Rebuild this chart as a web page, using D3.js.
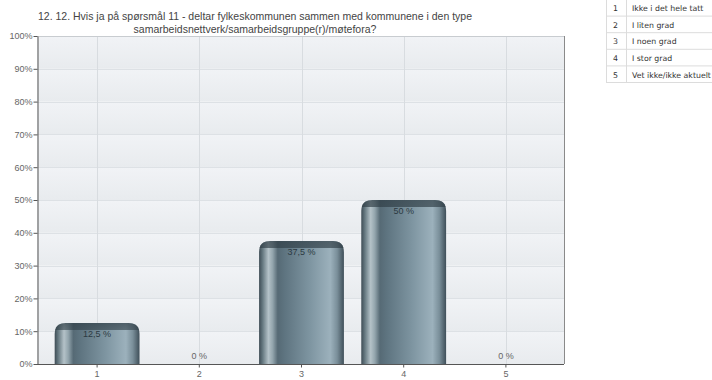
<!DOCTYPE html>
<html>
<head>
<meta charset="utf-8">
<script src="https://cdn.jsdelivr.net/npm/d3@7"></script>
<style>
  html, body { margin: 0; padding: 0; background: #fff; }
  svg { display: block; }
</style>
</head>
<body>
<svg id="chart" width="712" height="380"></svg>
<script>
// Answer categories and their share of responses (percent)
const categories = ["1", "2", "3", "4", "5"];
const values = [12.5, 0, 37.5, 50, 0];
const valueLabels = ["12,5 %", "0 %", "37,5 %", "50 %", "0 %"];
const yTicks = [0, 10, 20, 30, 40, 50, 60, 70, 80, 90, 100];
const titleLines = [
  "12. 12. Hvis ja på spørsmål 11 - deltar fylkeskommunen sammen med kommunene i den type",
  "samarbeidsnettverk/samarbeidsgruppe(r)/møtefora?"
];
const legendCodes = ["1", "2", "3", "4", "5"];
const legendTexts = ["Ikke i det hele tatt", "I liten grad", "I noen grad", "I stor grad", "Vet ikke/ikke aktuelt"];

const svg = d3.select("#chart");
const plot = { left: 37, right: 564, top: 36, bottom: 364 };

const x = d3.scaleBand()
  .domain(categories)
  .range([plot.left + 9, plot.right - 7])
  .paddingInner(0.17)
  .paddingOuter(0.085);

const y = d3.scaleLinear().domain([0, 100]).range([plot.bottom, plot.top]);

const defs = svg.append("defs");

// Soft vertical shading inside each 10% band
const bandGrad = defs.append("linearGradient").attr("id", "bandGrad")
  .attr("x1", 0).attr("y1", 0).attr("x2", 0).attr("y2", 1);
bandGrad.append("stop").attr("offset", "0%").attr("stop-color", "#f1f3f6");
bandGrad.append("stop").attr("offset", "100%").attr("stop-color", "#e8ebee");

// Cylinder-like shading across the bar
const barGrad = defs.append("linearGradient").attr("id", "barGrad")
  .attr("x1", 0).attr("y1", 0).attr("x2", 1).attr("y2", 0);
[
  ["0%", "#3e4c55"], ["4%", "#64777f"], ["11%", "#b4c2c8"], ["16%", "#93a5ad"],
  ["22%", "#566a75"], ["30%", "#5e7480"], ["60%", "#7e95a1"], ["84%", "#9cb1bc"],
  ["92%", "#7a8f9a"], ["100%", "#3f4f59"]
].forEach(([o, c]) => barGrad.append("stop").attr("offset", o).attr("stop-color", c));

// Darker rim along the rounded top
const capGrad = defs.append("linearGradient").attr("id", "capGrad")
  .attr("x1", 0).attr("y1", 0).attr("x2", 0).attr("y2", 1);
capGrad.append("stop").attr("offset", "0%").attr("stop-color", "#2f3d45").attr("stop-opacity", 0.7);
capGrad.append("stop").attr("offset", "100%").attr("stop-color", "#2f3d45").attr("stop-opacity", 0);

// Plot background bands
const bandEdges = d3.range(0, 100, 10);
svg.append("g").selectAll("rect").data(bandEdges).join("rect")
  .attr("x", plot.left)
  .attr("y", d => y(d + 10))
  .attr("width", plot.right - plot.left)
  .attr("height", d => y(d) - y(d + 10))
  .attr("fill", "url(#bandGrad)");

// Horizontal grid lines
svg.append("g").selectAll("line").data(yTicks.slice(1)).join("line")
  .attr("x1", plot.left).attr("x2", plot.right)
  .attr("y1", d => Math.round(y(d)) + 0.5).attr("y2", d => Math.round(y(d)) + 0.5)
  .attr("stroke", "#dde1e5");

// Vertical grid lines at category centres
svg.append("g").selectAll("line").data(categories).join("line")
  .attr("x1", d => Math.round(x(d) + x.bandwidth() / 2) + 0.5)
  .attr("x2", d => Math.round(x(d) + x.bandwidth() / 2) + 0.5)
  .attr("y1", plot.top).attr("y2", plot.bottom)
  .attr("stroke", "#d8dce0");

// Frame: right and top edges
svg.append("line")
  .attr("x1", plot.right + 0.5).attr("x2", plot.right + 0.5)
  .attr("y1", plot.top).attr("y2", plot.bottom)
  .attr("stroke", "#8a8a8a");
svg.append("line")
  .attr("x1", plot.left).attr("x2", plot.right)
  .attr("y1", plot.top + 0.5).attr("y2", plot.top + 0.5)
  .attr("stroke", "#c8ccd0");

// Bars with rounded top corners
const data = categories.map((c, i) => ({ c, v: values[i], label: valueLabels[i] }));
function barPath(d) {
  const x0 = x(d.c), w = x.bandwidth();
  const y0 = y(d.v), yb = y(0);
  const r = Math.min(11, (yb - y0), w / 2);
  return `M${x0},${yb} L${x0},${y0 + r} Q${x0},${y0} ${x0 + r},${y0} L${x0 + w - r},${y0} Q${x0 + w},${y0} ${x0 + w},${y0 + r} L${x0 + w},${yb} Z`;
}
const shown = data.filter(d => d.v > 0);
shown.forEach((d, i) => {
  defs.append("clipPath").attr("id", `cap${i}`)
    .append("rect")
    .attr("x", x(d.c)).attr("y", y(d.v))
    .attr("width", x.bandwidth()).attr("height", 7);
});
const bars = svg.append("g").selectAll("g").data(shown).join("g");
bars.append("path").attr("d", barPath).attr("fill", "url(#barGrad)");
bars.append("path").attr("d", barPath)
  .attr("fill", "url(#capGrad)")
  .attr("clip-path", (d, i) => `url(#cap${i})`);

// Value labels
svg.append("g").selectAll("text").data(data).join("text")
  .attr("x", d => x(d.c) + x.bandwidth() / 2)
  .attr("y", d => d.v > 0 ? y(d.v) + 14 : y(0) - 5)
  .attr("text-anchor", "middle")
  .attr("font-family", "Liberation Sans, Arial, sans-serif")
  .attr("font-size", 9)
  .attr("fill", d => d.v > 0 ? "#2c3a42" : "#666")
  .text(d => d.label);

// Y axis
const yAxis = svg.append("g")
  .attr("transform", `translate(${plot.left + 0.5},0)`)
  .call(d3.axisLeft(y).tickValues(yTicks).tickSize(4).tickSizeOuter(0).tickFormat(d => d + "%"));
yAxis.select(".domain").attr("stroke", "#555");
yAxis.selectAll(".tick line").attr("stroke", "#555");
yAxis.selectAll("text")
  .attr("font-family", "Liberation Sans, Arial, sans-serif")
  .attr("font-size", 9).attr("fill", "#666").attr("x", -5);

// X axis
const xAxis = svg.append("g")
  .attr("transform", `translate(0,${plot.bottom + 0.5})`)
  .call(d3.axisBottom(x).tickSize(3).tickSizeOuter(0));
xAxis.select(".domain").attr("stroke", "#555")
  .attr("d", `M${plot.left},0H${plot.right}`);
xAxis.selectAll(".tick line").attr("stroke", "#555");
xAxis.selectAll("text")
  .attr("font-family", "Liberation Sans, Arial, sans-serif")
  .attr("font-size", 9).attr("fill", "#666").attr("y", 6);

// Title
svg.append("g").selectAll("text").data(titleLines).join("text")
  .attr("x", 255)
  .attr("y", (d, i) => 19.5 + i * 13)
  .attr("text-anchor", "middle")
  .attr("font-family", "Liberation Sans, Arial, sans-serif")
  .attr("font-size", 10.5)
  .attr("fill", "#444")
  .text(d => d);

// Legend table of answer codes
const tbl = { left: 606, right: 712, top: 0, rowH: 16.6, codeW: 20 };
const legend = svg.append("g");
const rows = legend.selectAll("g").data(legendCodes).join("g")
  .attr("transform", (d, i) => `translate(0,${tbl.top + i * tbl.rowH})`);
rows.append("line")
  .attr("x1", tbl.left).attr("x2", tbl.right)
  .attr("y1", tbl.rowH - 0.5).attr("y2", tbl.rowH - 0.5)
  .attr("stroke", "#dcdcdc");
rows.append("text")
  .attr("x", tbl.left + 7).attr("y", tbl.rowH / 2 + 3)
  .attr("font-family", "DejaVu Sans, Verdana, sans-serif")
  .attr("font-size", 7.8).attr("fill", "#333")
  .text(d => d);
rows.append("text")
  .attr("x", tbl.left + tbl.codeW + 6).attr("y", tbl.rowH / 2 + 3)
  .attr("font-family", "DejaVu Sans, Verdana, sans-serif")
  .attr("font-size", 7.8).attr("fill", "#333")
  .text((d, i) => legendTexts[i]);
legend.append("line")
  .attr("x1", tbl.left + tbl.codeW + 0.5).attr("x2", tbl.left + tbl.codeW + 0.5)
  .attr("y1", 0).attr("y2", tbl.rowH * legendCodes.length)
  .attr("stroke", "#dcdcdc");
legend.append("line")
  .attr("x1", tbl.left + 0.5).attr("x2", tbl.left + 0.5)
  .attr("y1", 0).attr("y2", tbl.rowH * legendCodes.length)
  .attr("stroke", "#dcdcdc");
</script>
</body>
</html>
